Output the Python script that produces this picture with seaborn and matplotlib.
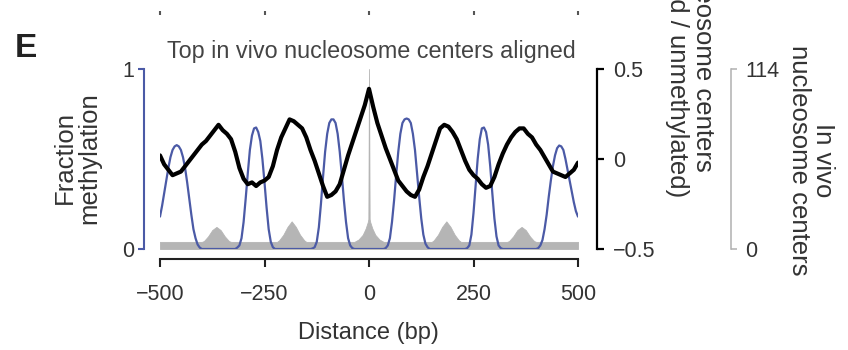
import numpy as np
import matplotlib
matplotlib.use('Agg')
import matplotlib.pyplot as plt
import seaborn as sns

# distance from aligned nucleosome center (bp)
blue_x = [-500, -495, -490, -485, -480, -475, -470, -465, -460, -455, -450, -445, -440, -435, -430,
          -425, -420, -415, -410, -405, -400, -380, -360, -340, -320, -315,
          -310, -305, -300, -295, -290, -285, -280, -275, -270, -265, -260, -255, -250, -245, -240,
          -235, -230, -225, -200, -170, -140, -135,
          -130, -125, -120, -115, -110, -105, -100, -95, -90, -85, -80, -75, -70, -65, -60, -55,
          -50, -45, -40, -35, 0, 35,
          40, 45, 50, 55, 60, 65, 70, 75, 80, 85, 90, 95, 100, 105, 110, 115, 120, 125, 130,
          135, 140, 145, 180, 230,
          235, 240, 245, 250, 255, 260, 265, 270, 275, 280, 285, 290, 295, 300, 305, 310, 315,
          320, 360, 400,
          405, 410, 415, 420, 425, 430, 435, 440, 445, 450, 455, 460, 465, 470, 475, 480, 485,
          490, 495, 500]
# fraction methylation (left axis)
blue_y = [0.18, 0.24, 0.31, 0.38, 0.45, 0.51, 0.55, 0.57, 0.577, 0.57, 0.55, 0.51, 0.45, 0.37, 0.28,
          0.19, 0.11, 0.06, 0.025, 0.008, 0.0, 0.0, 0.0, 0.0, 0.0, 0.008,
          0.02, 0.06, 0.15, 0.28, 0.42, 0.55, 0.63, 0.67, 0.675, 0.65, 0.60, 0.50, 0.37, 0.23, 0.11,
          0.04, 0.01, 0.0, 0.0, 0.0, 0.0, 0.003,
          0.01, 0.04, 0.12, 0.25, 0.40, 0.54, 0.64, 0.70, 0.72, 0.72, 0.70, 0.64, 0.54, 0.41, 0.27, 0.15,
          0.06, 0.02, 0.005, 0.0, 0.0, 0.0,
          0.005, 0.02, 0.06, 0.15, 0.27, 0.41, 0.54, 0.64, 0.70, 0.72, 0.725, 0.72, 0.70, 0.64, 0.55,
          0.42, 0.29, 0.17, 0.08, 0.03, 0.01, 0.0, 0.0, 0.0,
          0.005, 0.02, 0.08, 0.20, 0.35, 0.50, 0.61, 0.67, 0.675, 0.65, 0.58, 0.46, 0.31, 0.17, 0.07,
          0.02, 0.005, 0.0, 0.0, 0.0,
          0.005, 0.02, 0.05, 0.11, 0.19, 0.29, 0.38, 0.46, 0.52, 0.56, 0.575, 0.57, 0.55, 0.50, 0.44,
          0.38, 0.32, 0.26, 0.21, 0.18]

# log ratio methylated / unmethylated nucleosome centers (black axis), 10 bp steps
black_x = np.arange(-500, 501, 10)
black_y = [0.02, -0.03, -0.06, -0.09, -0.08, -0.07, -0.04, -0.01, 0.02, 0.05,
           0.08, 0.10, 0.13, 0.16, 0.19, 0.16, 0.14, 0.11, 0.04, -0.05,
           -0.11, -0.14, -0.13, -0.15, -0.13, -0.12, -0.10, -0.04, 0.05, 0.12,
           0.17, 0.22, 0.21, 0.19, 0.17, 0.12, 0.05, -0.01, -0.08, -0.15,
           -0.21, -0.20, -0.18, -0.14, -0.06, 0.02, 0.09, 0.16, 0.23, 0.30,
           0.39,
           0.29, 0.20, 0.13, 0.06, 0.0, -0.06, -0.12, -0.15, -0.18, -0.20,
           -0.21, -0.17, -0.10, -0.04, 0.03, 0.10, 0.17, 0.19, 0.18, 0.15,
           0.11, 0.05, -0.01, -0.06, -0.09, -0.11, -0.14, -0.16, -0.15, -0.10,
           -0.03, 0.03, 0.08, 0.12, 0.15, 0.17, 0.17, 0.14, 0.12, 0.08,
           0.05, 0.01, -0.03, -0.07, -0.08, -0.09, -0.10, -0.08, -0.06, -0.02]

# in vivo nucleosome centers (gray axis)
gray_x = [-500, -400, -395, -385, -375, -365, -355, -345, -335, -330,
          -220, -215, -205, -195, -185, -175, -165, -155, -150,
          -35, -25, -15, -8, -3, -1.5, 0, 1.5, 3, 8, 15, 25, 35,
          150, 155, 165, 175, 185, 195, 205, 215, 220,
          330, 335, 345, 355, 365, 375, 385, 395, 400, 500]
gray_y = [4.5, 4.5, 5, 8, 12, 14, 12, 8, 5, 4.5,
          4.5, 5.5, 9, 14, 17.5, 14, 9, 5.5, 4.5,
          4.5, 6, 9, 13, 17, 19, 114, 19, 17, 13, 9, 6, 4.5,
          4.5, 5.5, 9, 14, 17.5, 14, 9, 5.5, 4.5,
          4.5, 5, 8, 12, 14, 12, 8, 5, 4.5, 4.5]

xticks = [-500, -250, 0, 250, 500]

blue = '#4b5aa6'
grey_fill = '#b5b5b5'
grey_axis = '#b0b0b0'
txt = '#333333'

sns.set_theme(style='ticks')
plt.rcParams['font.family'] = ['Liberation Sans', 'DejaVu Sans']
plt.rcParams['axes.unicode_minus'] = True

fig = plt.figure(figsize=(8.48, 3.5), dpi=100)
rect = [160 / 848, 1 - 249 / 350, 418 / 848, 180 / 350]
ax = fig.add_axes(rect)
ax_g = ax.twinx()
ax_k = ax.twinx()
ax_g.set_zorder(1)
ax.set_zorder(2)
ax_k.set_zorder(3)
for a in (ax, ax_g, ax_k):
    a.patch.set_visible(False)

# gray nucleosome centers
ax_g.fill_between(gray_x, gray_y, 0, color=grey_fill, lw=0.6, ec=grey_fill)
ax_g.set_ylim(0, 114)

# blue fraction methylation
sns.lineplot(x=blue_x, y=blue_y, ax=ax, color=blue, lw=1.6, sort=False)
ax.set_ylim(0, 1)
ax.set_xlim(-500, 500)

# black ratio
sns.lineplot(x=black_x, y=black_y, ax=ax_k, color='black', lw=3.0)
ax_k.set_ylim(-0.5, 0.5)
ax_k.set_xlim(-500, 500)
ax_g.set_xlim(-500, 500)

# left axis
ax.spines['top'].set_visible(False)
ax.spines['right'].set_visible(False)
ax.spines['left'].set_position(('outward', 11.5))
ax.spines['left'].set_color(blue)
ax.spines['left'].set_linewidth(1.5)
ax.spines['bottom'].set_position(('outward', 7.5))
ax.spines['bottom'].set_color('#222222')
ax.spines['bottom'].set_linewidth(1.5)
ax.set_yticks([0, 1])
ax.set_yticklabels(['0', '1'])
ax.tick_params(axis='y', length=4, width=1.5, color=blue, labelcolor=txt, labelsize=15.5, pad=3)
ax.set_xticks(xticks)
ax.set_xticklabels(['\u2212500', '\u2212250', '0', '250', '500'])
ax.tick_params(axis='x', length=6, width=1.5, color='#222222', labelcolor=txt, labelsize=15.5, pad=12)
ax.set_xlabel('')
ax.set_ylabel('')

# black right axis
for s in ('top', 'left', 'bottom'):
    ax_k.spines[s].set_visible(False)
ax_k.spines['right'].set_position(('outward', 14))
ax_k.spines['right'].set_color('black')
ax_k.spines['right'].set_linewidth(1.6)
ax_k.set_yticks([-0.5, 0, 0.5])
ax_k.set_yticklabels(['\u22120.5', '0', '0.5'])
ax_k.tick_params(axis='y', length=5, width=1.6, color='black', labelcolor=txt, labelsize=15.5, pad=6)
ax_k.set_ylabel('')

# gray right axis
for s in ('top', 'left', 'bottom'):
    ax_g.spines[s].set_visible(False)
ax_g.spines['right'].set_position(('outward', 110.5))
ax_g.spines['right'].set_color(grey_axis)
ax_g.spines['right'].set_linewidth(1.1)
ax_g.set_yticks([0, 114])
ax_g.set_yticklabels(['0', '114'])
ax_g.tick_params(axis='y', length=4, width=1.1, color=grey_axis, labelcolor=txt, labelsize=15.5, pad=6)
ax_g.set_ylabel('')

# stray ticks from the panel above
ax_top = fig.add_axes([rect[0], 1 - 11 / 350, rect[2], 0.001])
ax_top.set_xlim(-500, 500)
ax_top.set_xticks(xticks)
ax_top.set_yticks([])
for s in ax_top.spines.values():
    s.set_visible(False)
ax_top.tick_params(axis='x', length=3, width=1.5, color='#555555', labelbottom=False)
ax_top.patch.set_visible(False)

# texts
fig.text(15 / 848, 1 - 57 / 350, 'E', fontsize=24, fontweight='bold', color='#222222', va='baseline')
fig.text(371 / 848, 1 - 58 / 350, 'Top in vivo nucleosome centers aligned', ha='center',
         va='baseline', fontsize=16.8, color='#444444')
fig.text(368 / 848, 1 - 339 / 350, 'Distance (bp)', ha='center', va='baseline', fontsize=17, color=txt)
fig.text(77 / 848, 1 - 158 / 350, 'Fraction\nmethylation', rotation=90, ha='center', va='center',
         fontsize=18.5, color=txt, linespacing=1.05)
fig.text(703 / 848, 1 - 172 / 350, 'Methylated nucleosome centers', rotation=270, ha='center',
         va='bottom', fontsize=18.5, color=txt)
fig.text(677 / 848, 1 - 197 / 350, '(log2 methylated / unmethylated)', rotation=270, ha='center',
         va='bottom', fontsize=18.5, color=txt)
fig.text(811 / 848, 1 - 160 / 350, 'In vivo\nnucleosome centers', rotation=270, ha='center',
         va='center', fontsize=18.5, color=txt, linespacing=1.05)

fig.savefig('out.png', dpi=100)
